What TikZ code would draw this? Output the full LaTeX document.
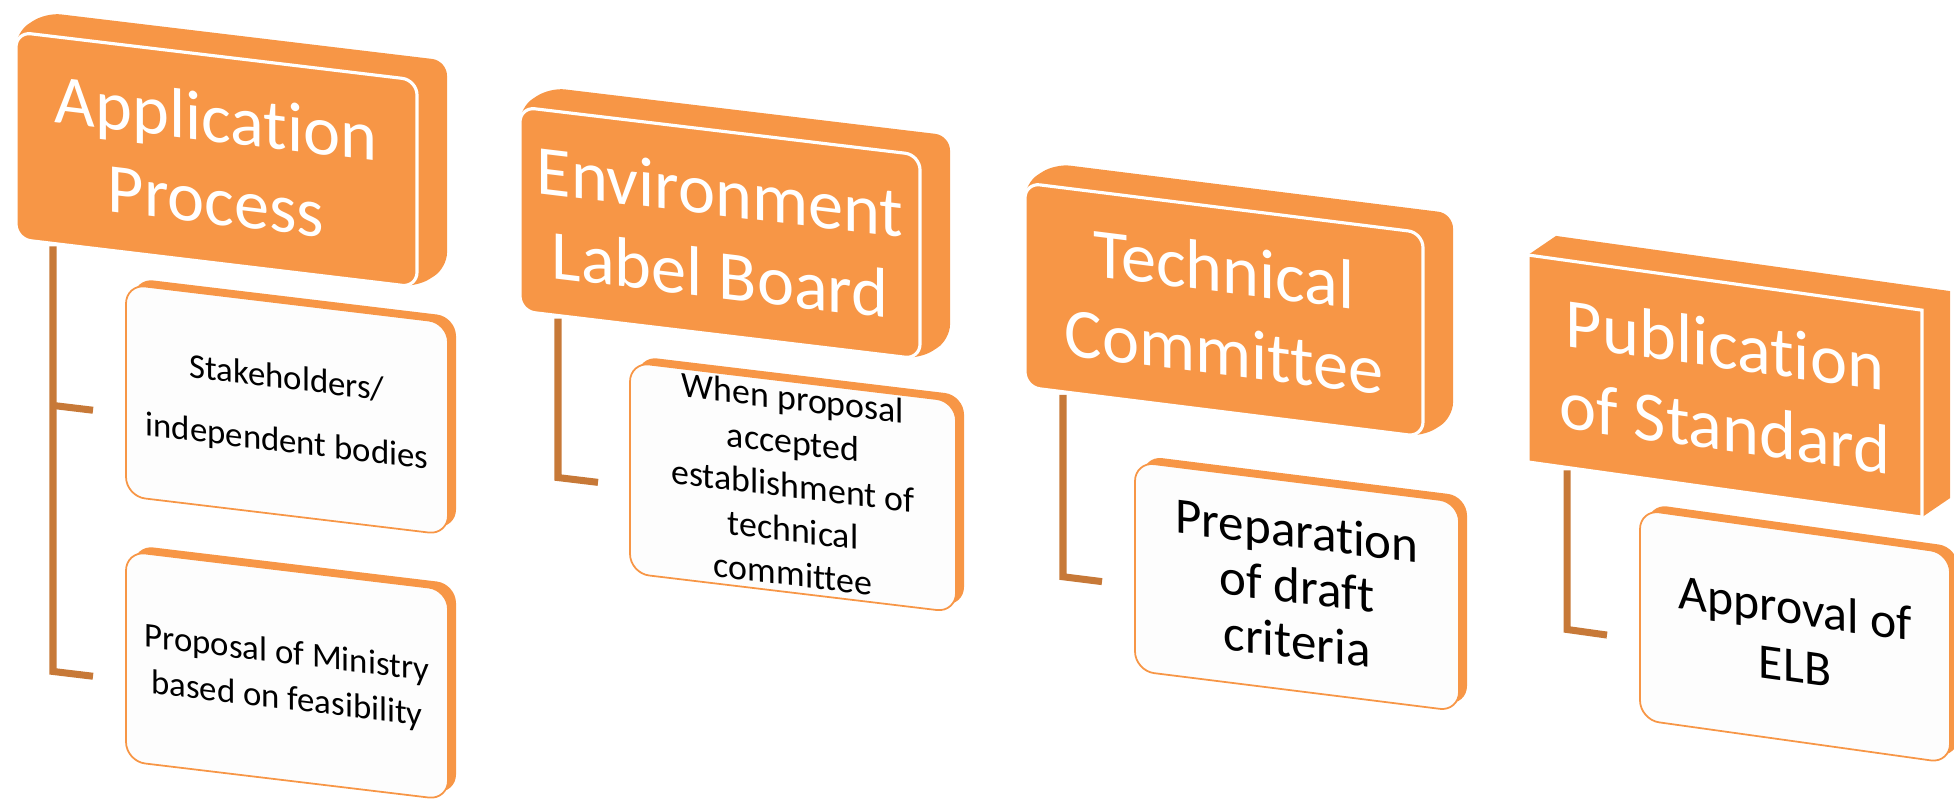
\documentclass[tikz,border=0pt]{standalone}
\usepackage{fontspec}
\setmainfont{Carlito}[Ligatures=NoCommon]
\usepackage{tikz}
\usetikzlibrary{positioning}
\definecolor{boxorange}{RGB}{247,150,70}
\definecolor{linkbrown}{RGB}{199,121,56}
\definecolor{paper}{RGB}{253,253,253}

\begin{document}
\begin{tikzpicture}[
    x=0.02cm, y=-0.02cm,
    shell/.style={fill=boxorange, rounded corners=8.5pt},
    front/.style={fill=boxorange, draw=white, line width=1.8pt, rounded corners=8.5pt},
    cardshell/.style={fill=boxorange, rounded corners=11pt},
    card/.style={fill=paper, draw=boxorange, line width=1pt, rounded corners=11pt},
    headtext/.style={transform shape, text=white, align=center, inner sep=0pt, font=\fontsize{40}{47}\selectfont},
    cardtext/.style={transform shape, text=black, align=center, inner sep=0pt},
    link/.style={draw=linkbrown, line width=4pt}
]
    \useasboundingbox (0,0) rectangle (1954,805);
    \clip (0,0) rectangle (1954,805);

    % Application Process
    \begin{scope}[shift={(16,32)}, yslant=-0.12]
        \fill[shell] (0,0) -- (30,-23) -- (431,-23) -- (431,184) -- (401,207) -- (0,207) -- cycle;
        \draw[front] (0,0) rectangle (401,207);
        \node[headtext] (app) at (200,103) {Application\\Process};
        % sub steps
        \fill[cardshell] (118,232) rectangle (440,444);
        \draw[card] (110,239) rectangle (432,451);
        \node[cardtext, font=\fontsize{19.8}{36}\selectfont] (stake) at (271,347) {Stakeholders/\\independent bodies};
        \fill[cardshell] (118,499) rectangle (440,709);
        \draw[card] (110,506) rectangle (432,716);
        \node[cardtext, font=\fontsize{19.8}{26}\selectfont] (ministry) at (271,613) {Proposal of Ministry\\based on feasibility};
        % connector
        \coordinate (app foot) at (37,210);
        \coordinate (app bend) at (37,635);
        \coordinate (ministry end) at (77,635);
        \coordinate (stake start) at (37,369);
        \coordinate (stake end) at (77,369);
        \draw[link] (app foot) -- (app bend) -- (ministry end);
        \draw[link] (stake start) -- (stake end);
    \end{scope}

    % Environment Label Board
    \begin{scope}[shift={(520,107)}, yslant=-0.12]
        \fill[shell] (0,0) -- (30,-23) -- (430,-23) -- (430,181) -- (400,204) -- (0,204) -- cycle;
        \draw[front] (0,0) rectangle (400,204);
        \node[headtext] (elb) at (200,102) {Environment\\Label Board};
        % sub step
        \fill[cardshell] (118,235) rectangle (444,446);
        \draw[card] (110,242) rectangle (436,453);
        \node[cardtext, font=\fontsize{20.4}{25}\selectfont] (accept) at (273,346) {When proposal\\accepted\\establishment of\\technical\\committee};
        % connector
        \coordinate (elb foot) at (38,207);
        \coordinate (elb bend) at (38,366);
        \coordinate (accept end) at (78,366);
        \draw[link] (elb foot) -- (elb bend) -- (accept end);
    \end{scope}

    % Technical Committee
    \begin{scope}[shift={(1025,183)}, yslant=-0.125]
        \fill[shell] (0,0) -- (30,-23) -- (428,-23) -- (428,181) -- (398,204) -- (0,204) -- cycle;
        \draw[front] (0,0) rectangle (398,204);
        \node[headtext] (tech) at (199,102) {Technical\\Committee};
        % sub step
        \fill[cardshell] (118,258) rectangle (442,467);
        \draw[card] (110,265) rectangle (434,474);
        \node[cardtext, font=\fontsize{29}{31.5}\selectfont] (draft) at (272,369) {Preparation\\of draft\\criteria};
        % connector
        \coordinate (tech foot) at (38,207);
        \coordinate (tech bend) at (38,389);
        \coordinate (draft end) at (77,389);
        \draw[link] (tech foot) -- (tech bend) -- (draft end);
    \end{scope}

    % Publication of Standard
    \begin{scope}[shift={(1528,255)}, yslant=-0.14]
        \fill[boxorange] (0,0) -- (28,-23) -- (422,-23) -- (422,184) -- (394,207) -- (0,207) -- cycle;
        \draw[front, sharp corners] (0,0) rectangle (394,207);
        \node[headtext] (pub) at (197,103) {Publication\\of Standard};
        % sub step
        \fill[cardshell] (120,232) rectangle (430,442);
        \draw[card] (112,239) rectangle (422,449);
        \node[cardtext, font=\fontsize{28.3}{33}\selectfont] (approve) at (267,344) {Approval of\\ELB};
        % connector
        \coordinate (pub foot) at (39,210);
        \coordinate (pub bend) at (39,369);
        \coordinate (approve end) at (79,369);
        \draw[link] (pub foot) -- (pub bend) -- (approve end);
    \end{scope}
\end{tikzpicture}
\end{document}
